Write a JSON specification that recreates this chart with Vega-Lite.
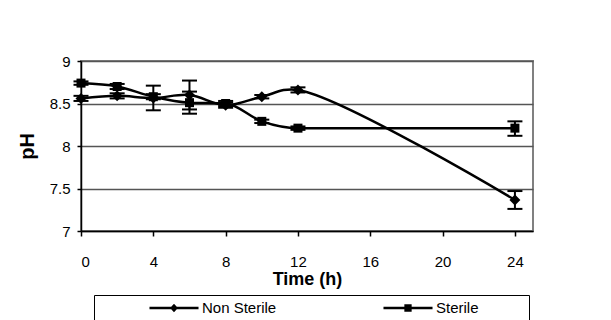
{
  "$schema": "https://vega.github.io/schema/vega-lite/v6.json",
  "width": 452,
  "height": 170,
  "autosize": {"type": "none"},
  "padding": {"left": 81, "top": 61, "right": 78, "bottom": 89},
  "background": "white",
  "data": {
    "values": [
      {"time": 0, "series": "Non Sterile", "ph": 8.56, "lo": 8.53, "hi": 8.59},
      {"time": 2, "series": "Non Sterile", "ph": 8.59, "lo": 8.56, "hi": 8.62},
      {"time": 4, "series": "Non Sterile", "ph": 8.565, "lo": 8.42, "hi": 8.71},
      {"time": 6, "series": "Non Sterile", "ph": 8.6, "lo": 8.43, "hi": 8.77},
      {"time": 8, "series": "Non Sterile", "ph": 8.48, "lo": 8.45, "hi": 8.51},
      {"time": 10, "series": "Non Sterile", "ph": 8.58, "lo": 8.56, "hi": 8.6},
      {"time": 12, "series": "Non Sterile", "ph": 8.66, "lo": 8.63, "hi": 8.69},
      {"time": 24, "series": "Non Sterile", "ph": 7.365, "lo": 7.26, "hi": 7.47},
      {"time": 0, "series": "Sterile", "ph": 8.74, "lo": 8.72, "hi": 8.76},
      {"time": 2, "series": "Sterile", "ph": 8.7, "lo": 8.67, "hi": 8.73},
      {"time": 4, "series": "Sterile", "ph": 8.58, "lo": 8.55, "hi": 8.61},
      {"time": 6, "series": "Sterile", "ph": 8.51, "lo": 8.38, "hi": 8.64},
      {"time": 8, "series": "Sterile", "ph": 8.5, "lo": 8.47, "hi": 8.53},
      {"time": 10, "series": "Sterile", "ph": 8.29, "lo": 8.27, "hi": 8.31},
      {"time": 12, "series": "Sterile", "ph": 8.21, "lo": 8.19, "hi": 8.23},
      {"time": 24, "series": "Sterile", "ph": 8.21, "lo": 8.12, "hi": 8.29}
    ]
  },
  "encoding": {
    "x": {
      "field": "time",
      "type": "quantitative",
      "scale": {"domain": [0, 25], "nice": false, "zero": false},
      "axis": {
        "title": "Time (h)",
        "values": [0, 4, 8, 12, 16, 20, 24],
        "grid": false,
        "tickSize": 5,
        "labelPadding": 18,
        "titlePadding": 1,
        "titleFontSize": 18
      }
    }
  },
  "layer": [
    {
      "transform": [{"filter": "datum.series === 'Non Sterile'"}],
      "mark": {"type": "line", "interpolate": "catmull-rom", "color": "black", "strokeWidth": 2.5},
      "encoding": {
        "y": {
          "field": "ph",
          "type": "quantitative",
          "scale": {"domain": [7, 9], "nice": false, "zero": false},
          "axis": {
            "title": "pH",
            "values": [7, 7.5, 8, 8.5, 9],
            "format": "~g",
            "tickSize": 4,
            "labelPadding": 7,
            "titlePadding": 12,
            "titleFontSize": 20
          }
        }
      }
    },
    {
      "transform": [{"filter": "datum.series === 'Sterile'"}],
      "mark": {"type": "line", "interpolate": "monotone", "color": "black", "strokeWidth": 2.5},
      "encoding": {"y": {"field": "ph", "type": "quantitative"}}
    },
    {
      "mark": {"type": "rule", "color": "black", "strokeWidth": 2},
      "encoding": {
        "y": {"field": "lo", "type": "quantitative"},
        "y2": {"field": "hi"}
      }
    },
    {
      "mark": {"type": "tick", "orient": "horizontal", "color": "black", "thickness": 2, "size": 15, "opacity": 1},
      "encoding": {"y": {"field": "lo", "type": "quantitative"}}
    },
    {
      "mark": {"type": "tick", "orient": "horizontal", "color": "black", "thickness": 2, "size": 15, "opacity": 1},
      "encoding": {"y": {"field": "hi", "type": "quantitative"}}
    },
    {
      "transform": [{"filter": "datum.series === 'Non Sterile'"}],
      "mark": {"type": "point", "shape": "diamond", "filled": true, "color": "black", "opacity": 1, "size": 120},
      "encoding": {"y": {"field": "ph", "type": "quantitative"}}
    },
    {
      "transform": [{"filter": "datum.series === 'Sterile'"}],
      "mark": {"type": "point", "shape": "square", "filled": true, "color": "black", "opacity": 1, "size": 81},
      "encoding": {"y": {"field": "ph", "type": "quantitative"}}
    },
    {
      "transform": [{"filter": "datum.time < 0"}],
      "mark": {"type": "point", "filled": false, "color": "black", "strokeWidth": 2.5, "opacity": 1},
      "encoding": {
        "y": {"field": "ph", "type": "quantitative"},
        "shape": {
          "field": "series",
          "type": "nominal",
          "scale": {
            "domain": ["Non Sterile", "Sterile"],
            "range": [
              "M-3.27,0H3.27M0,-0.32L0.3,0L0,0.32L-0.3,0ZM0,-0.1L0.1,0L0,0.1L-0.1,0Z",
              "M-3.27,0H3.27M-0.32,-0.32H0.32V0.32H-0.32ZM-0.1,-0.1H0.1V0.1H-0.1Z"
            ]
          },
          "legend": {
            "orient": "none",
            "legendX": 13,
            "legendY": 234,
            "direction": "horizontal",
            "columns": 2,
            "title": null,
            "strokeColor": "black",
            "fillColor": "white",
            "padding": 4,
            "columnPadding": 9,
            "symbolSize": 225,
            "symbolStrokeWidth": 2.5,
            "symbolStrokeColor": "black",
            "symbolOpacity": 1,
            "symbolOffset": 67,
            "labelOffset": 19,
            "labelExpr": "datum.label + '\u00a0\u00a0\u00a0\u00a0\u00a0\u00a0\u00a0\u00a0\u00a0\u00a0\u00a0\u200b'"
          }
        }
      }
    }
  ],
  "config": {
    "font": "Liberation Sans",
    "view": {"stroke": "#808080", "strokeWidth": 2},
    "axis": {
      "labelFont": "Liberation Sans",
      "labelFontSize": 15,
      "labelColor": "black",
      "titleFont": "Liberation Sans",
      "titleFontWeight": "bold",
      "titleColor": "black",
      "domainColor": "black",
      "domainWidth": 1.5,
      "tickColor": "black",
      "tickWidth": 1.5,
      "gridColor": "#555555",
      "gridWidth": 1.3
    },
    "legend": {
      "labelFont": "Liberation Sans",
      "labelFontSize": 15,
      "labelColor": "black"
    }
  }
}
